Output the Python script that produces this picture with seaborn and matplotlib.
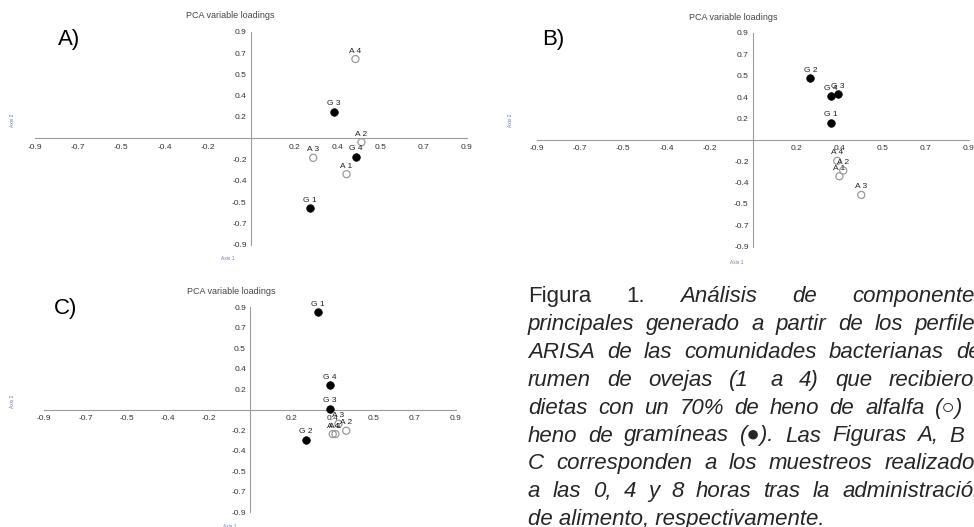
import matplotlib
matplotlib.use('Agg')
import numpy as np
import pandas as pd
import matplotlib.pyplot as plt
import seaborn as sns

sns.set_style('white')
plt.rcParams['font.family'] = ['Liberation Sans', 'DejaVu Sans']

# Cargas (A = heno de alfalfa, G = heno de gramíneas)
labels_a = ['A 4', 'G 3', 'A 2', 'G 4', 'A 3', 'A 1', 'G 1']
x_a = [0.436, 0.346, 0.461, 0.437, 0.260, 0.399, 0.245]
y_a = [0.669, 0.225, -0.034, -0.155, -0.166, -0.304, -0.593]

labels_b = ['G 2', 'G 4', 'G 3', 'G 1', 'A 4', 'A 2', 'A 1', 'A 3']
x_b = [0.240, 0.324, 0.356, 0.324, 0.352, 0.377, 0.361, 0.452]
y_b = [0.520, 0.368, 0.382, 0.143, -0.177, -0.259, -0.307, -0.464]

labels_c = ['G 1', 'G 4', 'G 3', 'G 2', 'A 4', 'A 1', 'A 3', 'A 2']
x_c = [0.296, 0.350, 0.350, 0.242, 0.361, 0.373, 0.386, 0.420]
y_c = [0.855, 0.214, 0.009, -0.263, -0.213, -0.213, -0.123, -0.184]

# ejes: marcas cada 0.18, etiquetas redondeadas como en el original
tick_labels = ['-0.9', '-0.7', '-0.5', '-0.4', '-0.2', '0.2', '0.4', '0.5', '0.7', '0.9']
panel_names = ['A)', 'B)', 'C)']
title = 'PCA variable loadings'

caption_lines = [
    'Figura 1. Análisis de componentes',
    'principales generado a partir de los perfiles',
    'ARISA de las comunidades bacterianas del',
    'rumen de ovejas (1  a 4) que recibieron',
    'dietas con un 70% de heno de alfalfa (\u25cb) o',
    'heno de gramíneas (\u25cf). Las Figuras A, B y',
    'C corresponden a los muestreos realizados',
    'a las 0, 4 y 8 horas tras la administración',
    'de alimento, respectivamente.',
]
caption_upright = ['Figura', '1.']  # solo al inicio de la primera línea

W, H = 974, 527


def px_axes(fig, left, top, right, bottom):
    return fig.add_axes([left / W, 1 - bottom / H, (right - left) / W, (bottom - top) / H])


def pca_panel(ax, labels, xs, ys):
    df = pd.DataFrame({'x': xs, 'y': ys, 'label': labels})
    df['dieta'] = df['label'].str[0]
    ticks = [v for v in np.linspace(-0.9, 0.9, 11) if abs(v) > 1e-9]

    ax.set_facecolor('none')
    for s in ['top', 'right']:
        ax.spines[s].set_visible(False)
    for s in ['left', 'bottom']:
        ax.spines[s].set_position('zero')
        ax.spines[s].set_color('#9c9c9c')
        ax.spines[s].set_linewidth(0.8)
    ax.set_xlim(-0.9, 0.9)
    ax.set_ylim(-0.9, 0.9)
    ax.set_xticks(ticks)
    ax.set_xticklabels(tick_labels)
    ax.set_yticks(ticks)
    ax.set_yticklabels(tick_labels)
    ax.tick_params(direction='in', length=3, width=0.8, color='#9c9c9c',
                   labelsize=6, labelcolor='#333333', pad=3)
    ax.tick_params(axis='x', pad=4)

    alf = df[df['dieta'] == 'A']
    gra = df[df['dieta'] == 'G']
    sns.scatterplot(data=alf, x='x', y='y', ax=ax, s=26, color='white',
                    edgecolor='#9a9a9a', linewidth=0.9, legend=False, zorder=3, clip_on=False)
    ax.collections[-1].set_facecolor('none')
    sns.scatterplot(data=gra, x='x', y='y', ax=ax, s=30, color='black',
                    edgecolor='black', linewidth=0.5, legend=False, zorder=3, clip_on=False)
    ax.set_xlabel('')
    ax.set_ylabel('')
    for _, r in df.iterrows():
        ax.annotate(r['label'], (r['x'], r['y']), xytext=(0, 3.2),
                    textcoords='offset points', ha='center', va='bottom',
                    fontsize=6, color='#222222', zorder=4)


def justified(ax, lines, left, right, base, step, size, renderer):
    sp = ax.text(0, 0, 'a a', fontsize=size, style='italic')
    nsp = ax.text(0, 0, 'aa', fontsize=size, style='italic')
    space = sp.get_window_extent(renderer).width - nsp.get_window_extent(renderer).width
    sp.remove()
    nsp.remove()

    for i, line in enumerate(lines):
        y = base + i * step
        if i == len(lines) - 1:
            ax.text(left, y, line, fontsize=size, style='italic', va='baseline', ha='left')
            continue
        words, extra = [], []
        for tok in line.split(' '):
            if tok == '':
                extra[-1] += 1
            else:
                words.append(tok)
                extra.append(0)
        items = []
        for j, w in enumerate(words):
            st = 'normal' if (i == 0 and j < len(caption_upright)) else 'italic'
            items.append(ax.text(left, y, w, fontsize=size, style=st,
                                 va='baseline', ha='left'))
        widths = [t.get_window_extent(renderer).width for t in items]
        n_gaps = len(words) - 1
        fixed = sum(widths) + space * sum(extra[:-1])
        unit = (right - left - fixed) / max(n_gaps, 1)
        x = left
        for j, t in enumerate(items):
            t.set_x(x)
            x += widths[j]
            if j < n_gaps:
                x += unit + space * extra[j]


def main():
    fig = plt.figure(figsize=(W / 100, H / 100), dpi=100)

    boxes = [(35, 31.7, 466.7, 244.7), (537, 33, 968.7, 246.7), (44.3, 307.3, 456, 512.3)]
    data = [(labels_a, x_a, y_a), (labels_b, x_b, y_b), (labels_c, x_c, y_c)]
    for box, (lab, xs, ys) in zip(boxes, data):
        ax = px_axes(fig, *box)
        pca_panel(ax, lab, xs, ys)

    # capa de texto en coordenadas de píxel
    over = fig.add_axes([0, 0, 1, 1])
    over.set_xlim(0, W)
    over.set_ylim(H, 0)
    over.axis('off')

    for (tx, ty), (lx, ly), (ax1x, ax1y), (ax2x, ax2y), name in zip(
            [(230, 15), (733, 17), (231, 292)],
            [(58, 45), (542, 45), (54, 314)],
            [(228, 258), (737, 262), (230, 526)],
            [(12, 120), (511, 120), (12, 401)],
            panel_names):
        over.text(tx, ty, title, fontsize=6.5, color='#4a4444', ha='center', va='center')
        over.text(lx, ly, name, fontsize=16, color='black', ha='left', va='baseline')
        over.text(ax1x, ax1y, 'Axis 1', fontsize=3.5, color='#6a7ab0', ha='center', va='center')
        over.text(ax2x, ax2y, 'Axis 2', fontsize=3.5, color='#6a7ab0', ha='center',
                  va='center', rotation=90)

    renderer = fig.canvas.get_renderer()
    justified(over, caption_lines, 528, 986, 302, 27.9, 16, renderer)

    fig.savefig('out.png', dpi=100)


if __name__ == '__main__':
    main()
